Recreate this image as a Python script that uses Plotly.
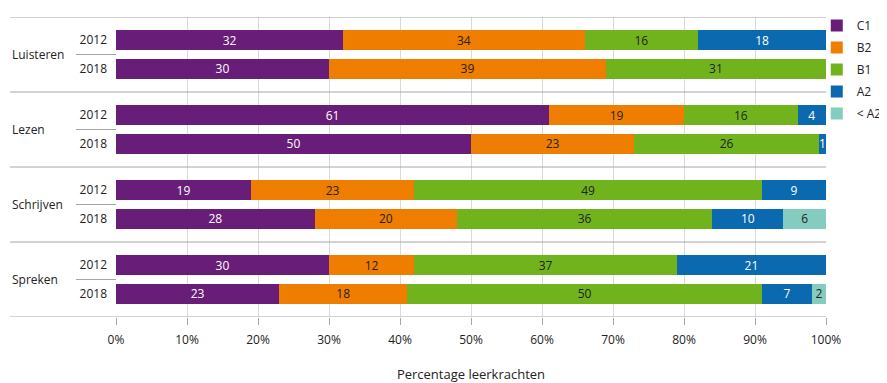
import plotly.graph_objects as go

skills = ["Luisteren", "Lezen", "Schrijven", "Spreken"]
years = ["2012", "2018"]
levels = ["C1", "B2", "B1", "A2", "< A2"]
colors = ["#681e78", "#ef7d00", "#70b31c", "#0b69b0", "#84ccc0"]
text_colors = ["white", "#222222", "#222222", "white", "#222222"]

# values per level, order: Luisteren 2012, 2018, Lezen 2012, 2018, Schrijven 2012, 2018, Spreken 2012, 2018
c1 = [32, 30, 61, 50, 19, 28, 30, 23]
b2 = [34, 39, 19, 23, 23, 20, 12, 18]
b1 = [16, 31, 16, 26, 49, 36, 37, 50]
a2 = [18, 0, 4, 1, 9, 10, 21, 7]
lt_a2 = [0, 0, 0, 0, 0, 6, 0, 2]
series = [c1, b2, b1, a2, lt_a2]

GROUP_STEP = 2.62
HALF = (GROUP_STEP - 1) / 2

ypos = []
ylab = []
for g, s in enumerate(skills):
    for j, yr in enumerate(years):
        ypos.append(g * GROUP_STEP + j)
        ylab.append(yr)

top = -HALF
bottom = (len(skills) - 1) * GROUP_STEP + 1 + HALF

fig = go.Figure()
for name, vals, col, tc in zip(levels, series, colors, text_colors):
    fig.add_trace(go.Bar(
        name=name, orientation="h", x=vals, y=ypos, legendgroup=name,
        marker=dict(color=col, line=dict(width=0)),
        width=0.68,
        text=[str(v) if v > 0 else "" for v in vals],
        textposition="inside", insidetextanchor="middle", textangle=0,
        constraintext="none",
        textfont=dict(color=tc, size=12, family="Open Sans"),
        hoverinfo="skip",
    ))

LBL_X = -106 / 710
YR_X = -40 / 710
shapes = []
# full-width separators
seps = [top] + [g * GROUP_STEP + 1 + HALF for g in range(len(skills) - 1)] + [bottom]
for yv in seps:
    shapes.append(dict(type="line", xref="paper", yref="y", x0=LBL_X, x1=1, y0=yv, y1=yv,
                       line=dict(color="#a6a6a6", width=1)))
# short dividers between years
for g in range(len(skills)):
    yv = g * GROUP_STEP + 0.5
    shapes.append(dict(type="line", xref="paper", yref="y", x0=YR_X, x1=0, y0=yv, y1=yv,
                       line=dict(color="#a6a6a6", width=1)))

annotations = []
for g, s in enumerate(skills):
    annotations.append(dict(text=s, xref="paper", yref="y", x=LBL_X, y=g * GROUP_STEP + 0.5,
                            xanchor="left", yanchor="middle", showarrow=False,
                            font=dict(size=12, color="#222222", family="Open Sans")))

fig.update_layout(
    barmode="stack",
    width=879, height=375,
    margin=dict(l=108, r=61, t=9, b=66, autoexpand=False),
    plot_bgcolor="white", paper_bgcolor="white",
    font=dict(family="Open Sans", size=12, color="#222222"),
    shapes=shapes, annotations=annotations,
    legend=dict(x=0.987, y=1.02, xanchor="left", yanchor="top", traceorder="grouped",
                font=dict(size=12, color="#222222"), tracegroupgap=3,
                itemwidth=30, bgcolor="rgba(0,0,0,0)"),
    xaxis=dict(range=[0, 100], dtick=10, ticksuffix="%", showgrid=True,
               gridcolor="#d9d9d9", gridwidth=1, zeroline=False,
               ticks="outside", ticklen=7, tickcolor="#a6a6a6",
               showline=False, ticklabelstandoff=5,
               title=dict(text="Percentage leerkrachten", standoff=24,
                          font=dict(size=13, color="#222222")),
               tickfont=dict(size=12)),
    yaxis=dict(range=[bottom, top], tickvals=ypos, ticktext=ylab, showgrid=False,
               zeroline=False, showline=False, ticks="", ticklabelstandoff=8,
               tickfont=dict(size=12)),
)

fig.write_html("out.html")
